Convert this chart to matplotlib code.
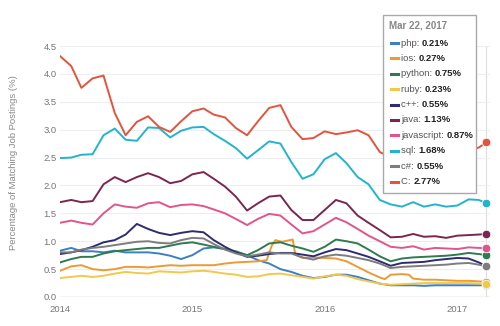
import matplotlib
matplotlib.use("Agg")
import matplotlib.pyplot as plt
import matplotlib.dates as mdates
import pandas as pd
from matplotlib.patches import Rectangle
from matplotlib.lines import Line2D

plt.rcParams["font.family"] = ["Liberation Sans", "DejaVu Sans"]

# monthly samples Jan 2014 .. Mar 2017, plus the hovered day
months = list(pd.date_range("2014-01-01", "2017-03-01", freq="MS")) + [pd.Timestamp("2017-03-22")]

php = [0.83, 0.88, 0.82, 0.82, 0.80, 0.83, 0.80, 0.80, 0.80, 0.78, 0.74, 0.68,
       0.75, 0.87, 0.89, 0.86, 0.80, 0.75, 0.66, 0.60, 0.50, 0.45, 0.38, 0.34,
       0.36, 0.40, 0.40, 0.36, 0.30, 0.24, 0.21, 0.21, 0.21, 0.20, 0.21, 0.21,
       0.21, 0.21, 0.21, 0.21]
python = [0.62, 0.68, 0.72, 0.72, 0.78, 0.82, 0.84, 0.86, 0.88, 0.88, 0.92, 0.96,
          0.98, 0.94, 0.90, 0.86, 0.82, 0.75, 0.84, 0.96, 0.98, 0.92, 0.87, 0.81,
          0.90, 1.03, 1.00, 0.96, 0.85, 0.73, 0.64, 0.69, 0.71, 0.72, 0.73, 0.74,
          0.76, 0.79, 0.77, 0.75]
ruby = [0.34, 0.36, 0.38, 0.36, 0.38, 0.42, 0.45, 0.43, 0.42, 0.46, 0.45, 0.44,
        0.46, 0.47, 0.45, 0.42, 0.40, 0.36, 0.37, 0.41, 0.42, 0.39, 0.36, 0.33,
        0.37, 0.40, 0.38, 0.32, 0.28, 0.24, 0.22, 0.23, 0.24, 0.25, 0.25, 0.25,
        0.25, 0.25, 0.24, 0.23]
cpp = [0.77, 0.80, 0.84, 0.90, 0.98, 1.02, 1.12, 1.31, 1.22, 1.15, 1.11, 1.15,
       1.18, 1.16, 1.02, 0.90, 0.80, 0.72, 0.74, 0.77, 0.79, 0.79, 0.76, 0.73,
       0.80, 0.86, 0.84, 0.78, 0.72, 0.64, 0.56, 0.61, 0.62, 0.63, 0.66, 0.68,
       0.70, 0.69, 0.62, 0.55]
java = [1.70, 1.74, 1.70, 1.72, 2.02, 2.15, 2.06, 2.15, 2.22, 2.15, 2.04, 2.08,
        2.20, 2.24, 2.12, 1.98, 1.80, 1.55, 1.68, 1.80, 1.82, 1.56, 1.38, 1.38,
        1.56, 1.74, 1.68, 1.46, 1.33, 1.20, 1.07, 1.08, 1.13, 1.08, 1.09, 1.06,
        1.10, 1.11, 1.12, 1.13]
javascript = [1.33, 1.37, 1.33, 1.30, 1.50, 1.66, 1.62, 1.60, 1.68, 1.70, 1.61, 1.65,
              1.66, 1.63, 1.57, 1.50, 1.40, 1.29, 1.40, 1.49, 1.46, 1.30, 1.14, 1.18,
              1.30, 1.42, 1.34, 1.22, 1.10, 1.00, 0.90, 0.88, 0.91, 0.85, 0.88, 0.87,
              0.86, 0.89, 0.88, 0.87]
sql = [2.49, 2.50, 2.55, 2.56, 2.90, 3.02, 2.82, 2.80, 3.04, 3.03, 2.86, 2.98,
       3.04, 3.05, 2.92, 2.80, 2.67, 2.48, 2.63, 2.79, 2.75, 2.42, 2.12, 2.20,
       2.47, 2.58, 2.40, 2.15, 2.02, 1.74, 1.66, 1.62, 1.70, 1.62, 1.66, 1.62,
       1.64, 1.75, 1.74, 1.68]
csharp = [0.80, 0.80, 0.85, 0.88, 0.90, 0.93, 0.96, 0.99, 1.00, 0.97, 0.96, 1.02,
          1.06, 1.05, 0.95, 0.85, 0.78, 0.73, 0.76, 0.80, 0.78, 0.78, 0.71, 0.67,
          0.73, 0.76, 0.74, 0.70, 0.66, 0.60, 0.52, 0.54, 0.55, 0.56, 0.57, 0.58,
          0.60, 0.61, 0.58, 0.55]
c_lang = [4.32, 4.14, 3.75, 3.92, 3.97, 3.30, 2.90, 3.14, 3.24, 3.05, 2.96, 3.15,
          3.33, 3.38, 3.27, 3.22, 3.03, 2.90, 3.15, 3.39, 3.44, 3.05, 2.83, 2.85,
          2.97, 2.92, 2.95, 2.99, 2.90, 2.60, 2.50, 2.55, 2.60, 2.58, 2.62, 2.60,
          2.62, 2.62, 2.68, 2.77]

# ios has a sharp step in autumn 2015, so it gets its own dates
ios_dates = ["2014-01-01", "2014-02-01", "2014-03-01", "2014-04-01", "2014-05-01",
             "2014-06-01", "2014-07-01", "2014-08-01", "2014-09-01", "2014-10-01",
             "2014-11-01", "2014-12-01", "2015-01-01", "2015-02-01", "2015-03-01",
             "2015-04-01", "2015-05-01", "2015-06-01", "2015-07-01", "2015-07-25",
             "2015-08-08", "2015-08-18", "2015-09-05", "2015-09-20", "2015-10-05",
             "2015-10-12", "2015-11-01", "2015-12-01", "2016-01-01", "2016-02-01",
             "2016-03-01", "2016-04-01", "2016-05-01", "2016-06-01", "2016-06-15",
             "2016-07-01", "2016-08-01", "2016-08-20", "2016-09-01", "2016-10-01",
             "2016-11-01", "2016-12-01", "2017-01-01", "2017-02-01", "2017-03-01",
             "2017-03-22"]
ios = [0.47, 0.55, 0.57, 0.50, 0.48, 0.50, 0.54, 0.54, 0.53, 0.55,
       0.57, 0.56, 0.57, 0.57, 0.57, 0.60, 0.62, 0.63, 0.64, 0.66,
       0.92, 1.02, 0.99, 1.01, 1.03, 0.76, 0.70, 0.71, 0.70, 0.69,
       0.64, 0.54, 0.44, 0.35, 0.32, 0.40, 0.41, 0.40, 0.33, 0.31,
       0.31, 0.30, 0.29, 0.29, 0.28, 0.27]

names = ["php", "ios", "python", "ruby", "c++", "java", "javascript", "sql", "c#", "C"]
colors = ["#3b7fc4", "#eb9a35", "#2f7a4f", "#f2c84b", "#2e2c6e",
          "#7c2550", "#e3548c", "#22b4cf", "#7d7d80", "#e4533d"]
last_values = ["0.21%", "0.27%", "0.75%", "0.23%", "0.55%",
               "1.13%", "0.87%", "1.68%", "0.55%", "2.77%"]

W, H = 500, 326


def fx(px):
    return px / W


def fy(py):
    return 1 - py / H


fig = plt.figure(figsize=(W / 100, H / 100), dpi=100)
ax = fig.add_axes([fx(60), fy(297), fx(490) - fx(60), fy(46) - fy(297)])

series = [php, None, python, ruby, cpp, java, javascript, sql, csharp, c_lang]
for name, col, vals in zip(names, colors, series):
    if name == "ios":
        xs = pd.to_datetime(ios_dates)
        vals = ios
    else:
        xs = months
    ax.plot(xs, vals, color=col, lw=1.4, solid_joinstyle="round", zorder=3)
    ax.plot(xs[-1], vals[-1], "o", color=col, ms=6.2, mec="white", mew=0.6, zorder=4)

ax.axvline(months[-1], color="#dddddd", lw=0.8, zorder=1)

ax.set_ylim(0, 4.5)
ax.set_xlim(pd.Timestamp("2014-01-01"), pd.Timestamp("2017-04-01"))
ax.set_yticks([0, 0.5, 1.0, 1.5, 2.0, 2.5, 3.0, 3.5, 4.0, 4.5])
ax.set_yticklabels(["0.0", "0.5", "1.0", "1.5", "2.0", "2.5", "3.0", "3.5", "4.0", "4.5"])
ax.xaxis.set_major_locator(mdates.YearLocator())
ax.xaxis.set_major_formatter(mdates.DateFormatter("%Y"))
ax.tick_params(axis="both", length=0, labelsize=6.8, colors="#777777")
ax.tick_params(axis="y", pad=2.5)
ax.tick_params(axis="x", pad=6)
ax.set_clip_on(False)
for s in ax.spines.values():
    s.set_visible(False)
ax.grid(axis="y", color="#eeeeee", lw=0.8, zorder=0)
ax.axhline(0, color="#cccccc", lw=1.0, zorder=1)

fig.text(fx(14), fy(163), "Percentage of Matching Job Postings (%)", rotation=90,
         ha="center", va="center", fontsize=6.8, color="#888888")

# hover tooltip
box = Rectangle((fx(383), fy(193)), fx(476) - fx(383), fy(15) - fy(193),
                transform=fig.transFigure, facecolor="white", edgecolor="#a9a9a9",
                lw=1.0, zorder=10)
fig.patches.append(box)
fig.text(fx(389), fy(26), "Mar 22, 2017", fontsize=7, color="#888888",
         fontweight="bold", va="center", zorder=11)

renderer = fig.canvas.get_renderer()
for i, (name, col, val) in enumerate(zip(names, colors, last_values)):
    yy = fy(43 + i * 15.4)
    fig.lines.append(Line2D([fx(391), fx(398)], [yy, yy], transform=fig.transFigure,
                            color=col, lw=2.2, zorder=11))
    t = fig.text(fx(401), yy, name + ": ", fontsize=6.8, color="#555555",
                 va="center", zorder=11)
    bb = t.get_window_extent(renderer)
    fig.text(bb.x1 / fig.bbox.width, yy, val, fontsize=6.8, color="#222222",
             fontweight="bold", va="center", zorder=11)

fig.savefig("out.png", dpi=100)
